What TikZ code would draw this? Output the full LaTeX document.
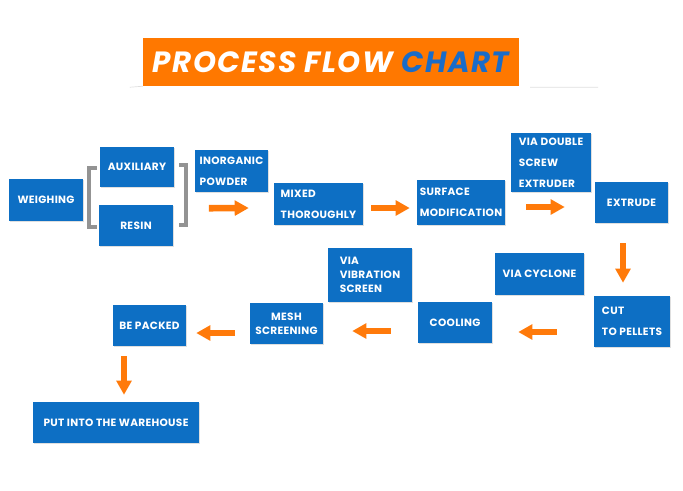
\documentclass[tikz,border=0pt]{standalone}
\usepackage{fontspec}
\usetikzlibrary{arrows.meta, calc, shadows}
\newfontfamily\boxfont{Poppins}[LetterSpace=3]
\newfontfamily\titlefont{Poppins}[LetterSpace=5]
\definecolor{boxblue}{HTML}{0D6FC4}
\definecolor{flowor}{HTML}{FF7A0A}
\definecolor{titleor}{HTML}{FF7800}
\definecolor{titleblue}{HTML}{1A6CC8}

\begin{document}
\begin{tikzpicture}[
    x=0.03cm, y=-0.03cm,
    box/.style={fill=boxblue, text=white, inner sep=0pt, align=center,
                font=\boxfont\bfseries\fontsize{9}{12}\selectfont,
                drop shadow={shadow xshift=0.6pt, shadow yshift=-0.8pt,
                             opacity=0.25}},
    lbox/.style={box, align=left},
    wh/.style 2 args={minimum width=#1*0.03cm, minimum height=#2*0.03cm},
    flow/.style={-{Triangle[length=12pt, width=12.5pt]}, line width=5.6pt,
                 flowor},
    bracket/.style={line width=3.4pt, gray!85}
  ]
  \useasboundingbox (0,0) rectangle (683,490);

  % Title
  \node[fill=titleor, wh={376}{48}, text=white,
        font=\titlefont\bfseries\itshape\fontsize{25}{25}\selectfont]
    (title) at (331,62) {PROCESS FLOW \textcolor{titleblue}{CHART}};
  \draw[gray!25, line width=0.6pt]
    ($(title.south west)+(-13,1)$) -- (title.south west)
    ($(title.south east)+(11,1)$) -- ++(68,0);

  % First row
  \node[box, wh={74}{42}] (weigh) at (46,200) {WEIGHING};
  \node[box, wh={74}{40}] (aux) at (137,167) {AUXILIARY};
  \node[box, wh={74}{41}] (resin) at (136,225.5) {RESIN};
  \node[lbox, wh={73}{42}] (powder) at (231.5,171) {INORGANIC\\[6pt]POWDER};
  \node[lbox, wh={89}{42}] (mixed) at (318.5,204) {MIXED\\[6pt]THOROUGHLY};
  \node[lbox, wh={88}{45}] (surface) at (461,202.5)
    {SURFACE\\[6pt]MODIFICATION};
  \node[lbox, wh={80}{59}] (screw) at (551,162.5)
    {VIA DOUBLE\\[6pt]SCREW\\[6pt]EXTRUDER};
  \node[box, wh={73}{41}] (extrude) at (631.5,202.5) {EXTRUDE};

  % Brackets round the raw materials
  \draw[bracket] ($(aux.west)+(-3,1)$) -- ++(-8,0)
    -- ($(resin.west)+(-10,1.5)$) -- ++(8,0);
  \draw[bracket] ($(aux.east)+(5,-2)$) -- ++(7,0)
    -- ($(resin.east)+(13,-0.5)$) -- ++(-7,0);

  % Second row
  \node[lbox, wh={76}{51}] (cut) at (632,321.5) {CUT\\[6pt]TO PELLETS};
  \node[box, wh={89}{42}] (cyclone) at (539.5,274) {VIA CYCLONE};
  \node[box, wh={74}{41}] (cooling) at (455,322.5) {COOLING};
  \node[lbox, wh={84}{54}] (vibration) at (370,275)
    {VIA\\VIBRATION\\SCREEN};
  \node[box, wh={73}{41}] (mesh) at (286.5,323.5) {MESH\\SCREENING};
  \node[box, wh={73}{41}] (packed) at (149.5,325.5) {BE PACKED};
  \node[box, wh={166}{41}] (store) at (116,422.5)
    {PUT INTO THE WAREHOUSE};

  % Flow arrows
  \draw[flow] ($(powder.south west)+(14,16)$) -- ($(mixed.west)+(-25,4)$);
  \draw[flow] ($(mixed.east)+(8,4)$) -- ($(surface.west)+(-7,5.5)$);
  \draw[flow] ($(surface.east)+(21,4.5)$) -- ($(extrude.west)+(-30,4.5)$);
  \draw[flow] ($(extrude.south)+(-8.5,20)$) -- ($(cut.north)+(-9,-13)$);
  \draw[flow] ($(cut.west)+(-37,10.5)$) -- ($(cooling.east)+(26,9.5)$);
  \draw[flow] ($(cooling.west)+(-27,8.5)$) -- ($(mesh.east)+(29,7.5)$);
  \draw[flow] ($(mesh.west)+(-15,9.5)$) -- ($(packed.east)+(10,7.5)$);
  \draw[flow] ($(packed.south)+(-25.5,10)$) -- ($(store.north)+(8,-7)$);
\end{tikzpicture}
\end{document}
